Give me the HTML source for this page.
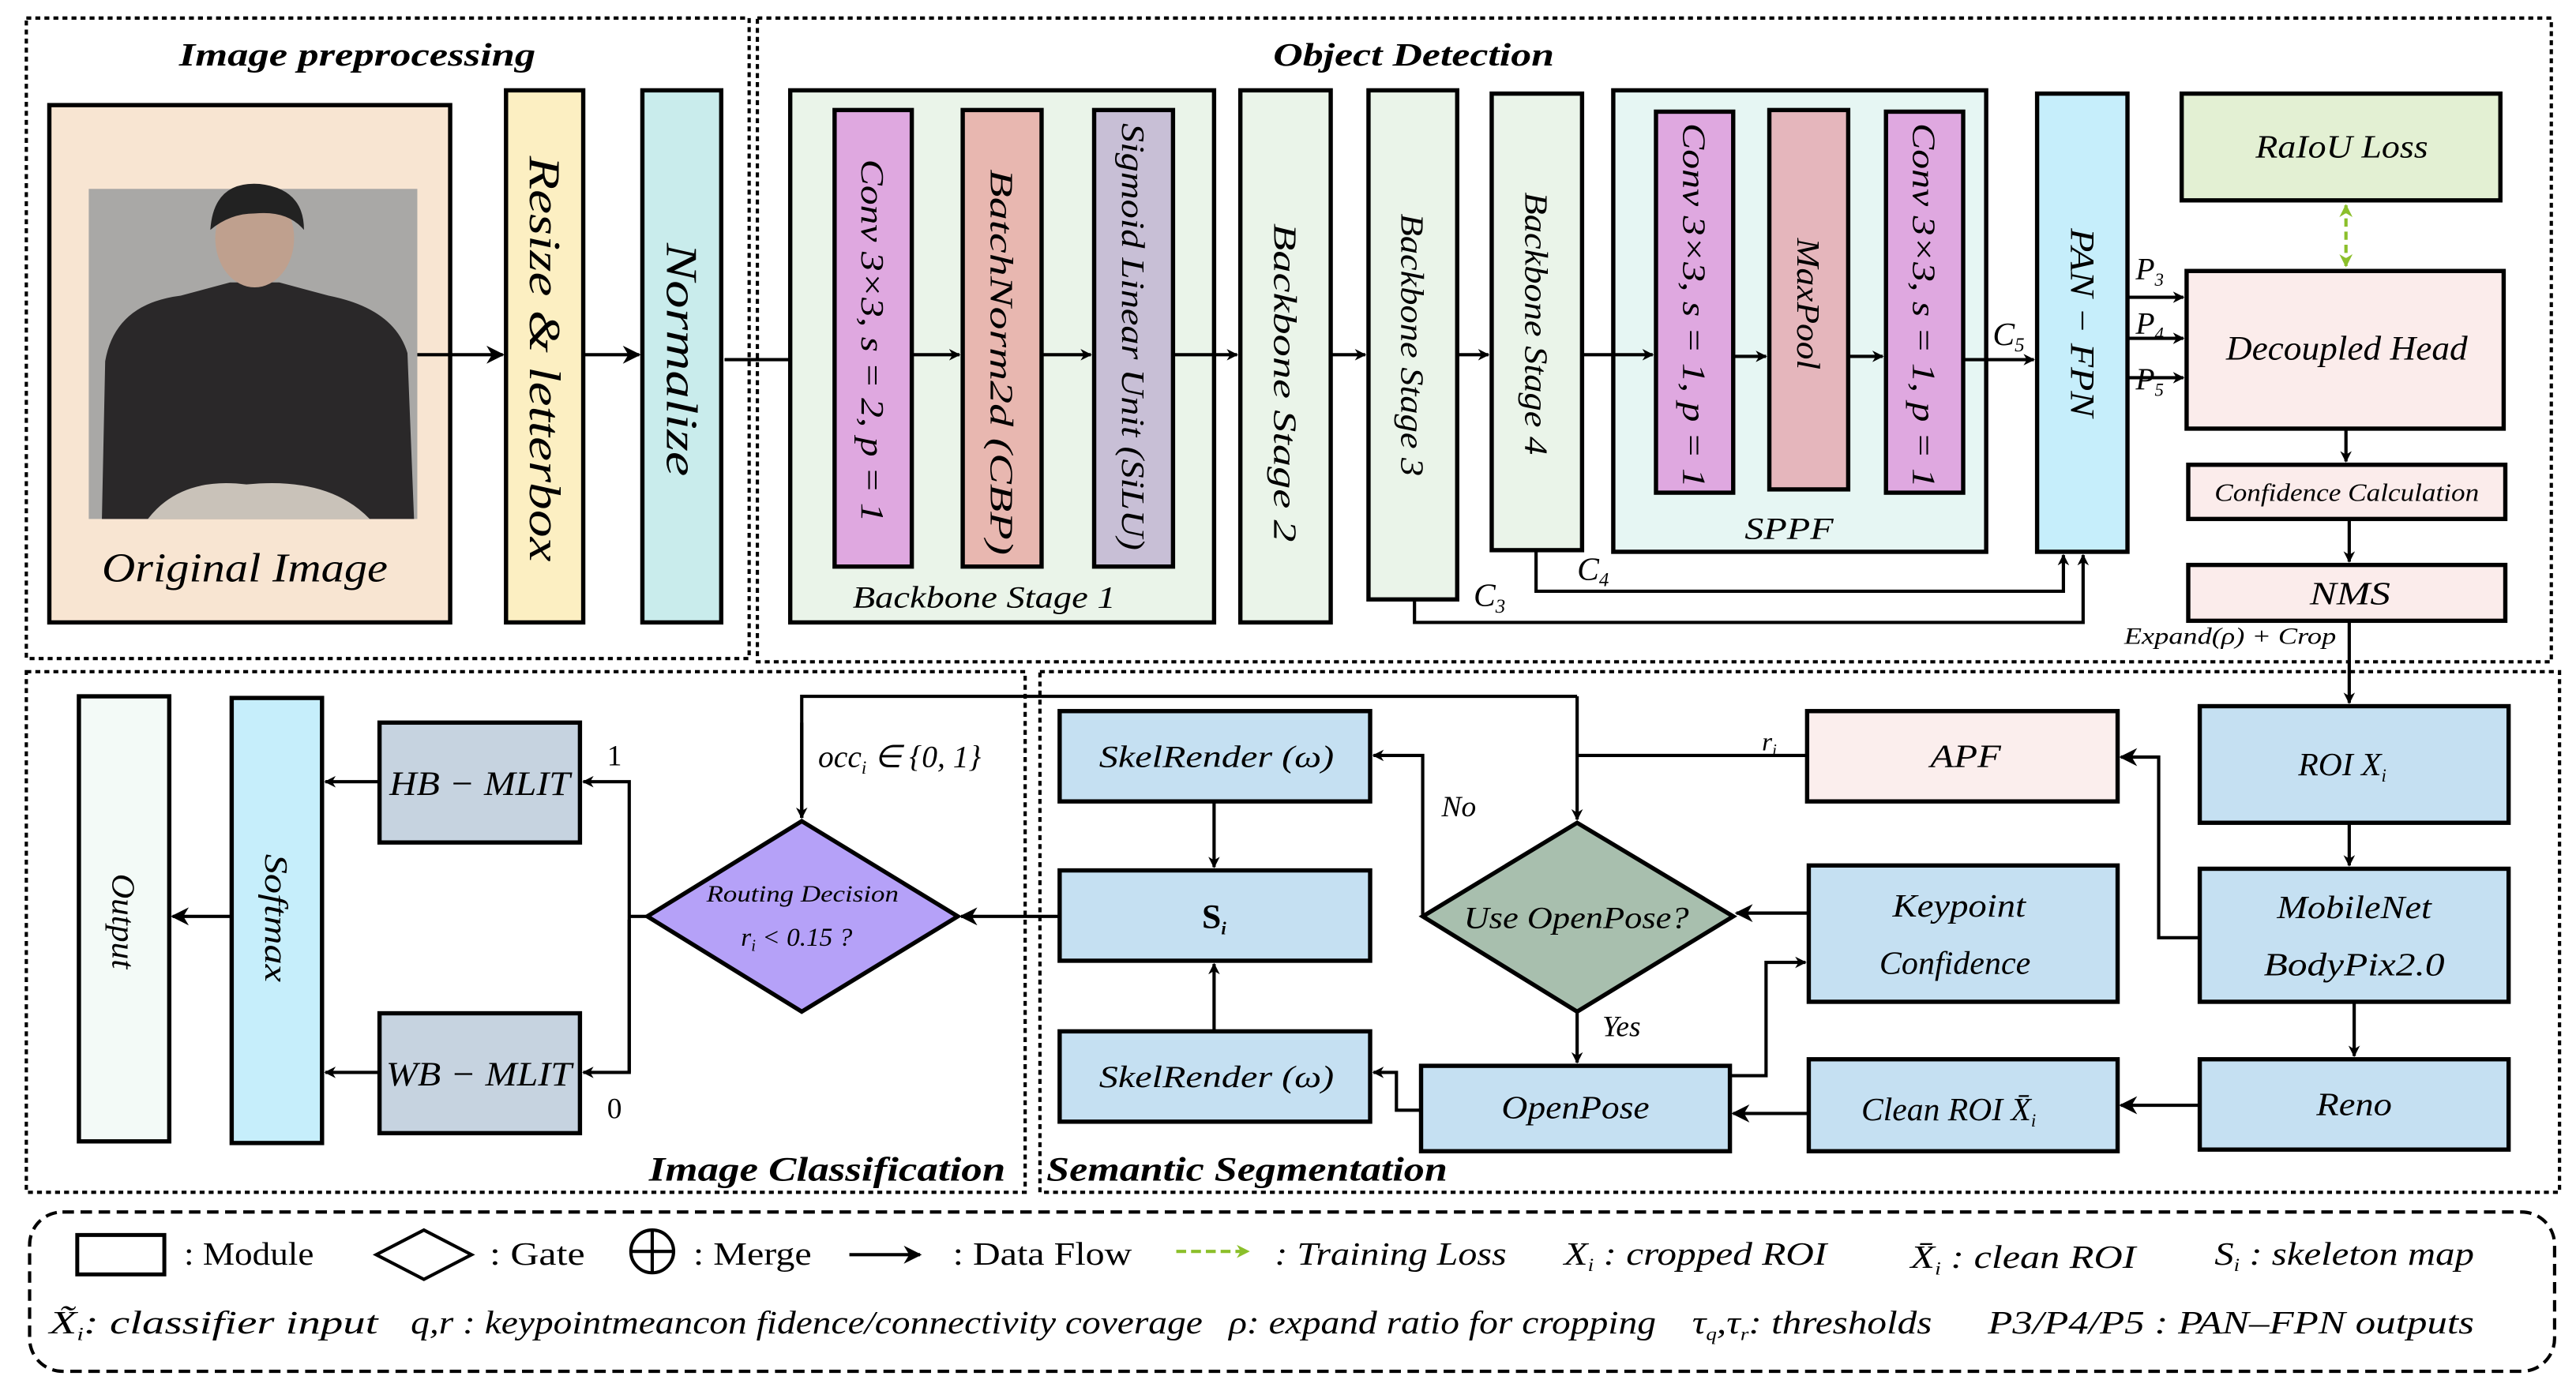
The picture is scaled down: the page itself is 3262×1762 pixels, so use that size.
<!DOCTYPE html>
<html><head><meta charset="utf-8"><style>
html,body{margin:0;padding:0;background:#fff;}
svg{display:block;}
text{font-family:"Liberation Serif",serif;font-style:italic;fill:#000;}
.n{font-style:normal;}
.b{font-weight:bold;}
.box{stroke:#000;stroke-width:2.6;}
.ln{stroke:#000;stroke-width:2;fill:none;}
</style></head><body>
<svg width="3262" height="1762" viewBox="0 0 1568 847" xmlns="http://www.w3.org/2000/svg">
<defs>
<marker id="a" viewBox="0 0 10 10" refX="9" refY="5" markerWidth="7" markerHeight="7" orient="auto" markerUnits="userSpaceOnUse">
<path d="M0,0 L10,5 L0,10 L3,5 z" fill="#000"/></marker>
<marker id="ab" viewBox="0 0 10 10" refX="9" refY="5" markerWidth="11" markerHeight="11" orient="auto" markerUnits="userSpaceOnUse">
<path d="M0,0 L10,5 L0,10 L3,5 z" fill="#000"/></marker>
<marker id="g" viewBox="0 0 10 10" refX="9" refY="5" markerWidth="8" markerHeight="8" orient="auto-start-reverse" markerUnits="userSpaceOnUse">
<path d="M0,0 L10,5 L0,10 L3,5 z" fill="#8bbf2a"/></marker>
</defs>

<!-- section frames -->
<g fill="none" stroke="#000" stroke-width="2" stroke-dasharray="3 2.5">
<rect x="16" y="11" width="440" height="390"/>
<rect x="461" y="11" width="1092" height="392"/>
<rect x="16" y="409" width="608" height="317"/>
<rect x="633" y="409" width="925" height="317"/>
</g>
<rect x="18" y="738" width="1537" height="97" rx="20" fill="none" stroke="#000" stroke-width="2" stroke-dasharray="7 4"/>

<text x="109" y="40" font-size="20" textLength="217" lengthAdjust="spacingAndGlyphs" class="b">Image preprocessing</text>
<text x="775" y="40" font-size="20" textLength="171" lengthAdjust="spacingAndGlyphs" class="b">Object Detection</text>
<text x="395" y="719" font-size="21" textLength="217" lengthAdjust="spacingAndGlyphs" class="b">Image Classification</text>
<text x="637" y="719" font-size="21" textLength="244" lengthAdjust="spacingAndGlyphs" class="b">Semantic Segmentation</text>

<!-- preprocessing -->
<rect class="box" x="30" y="64" width="244" height="315" fill="#f8e5d2"/>
<rect x="54" y="115" width="200" height="201" fill="#a9a8a6"/>
<path d="M62,316 L64,220 Q70,185 110,180 L140,172 L170,172 L200,180 Q240,188 248,215 L252,316 Z" fill="#2a2829"/>
<ellipse cx="155" cy="145" rx="24" ry="30" fill="#bfa08e"/>
<path d="M128,140 Q130,110 158,112 Q185,115 185,140 Q175,128 155,130 Q140,130 128,140Z" fill="#222"/>
<path d="M90,316 Q110,290 150,295 Q200,290 225,316Z" fill="#c9c2b9"/>
<text x="62" y="354" font-size="25" textLength="174" lengthAdjust="spacingAndGlyphs">Original Image</text>

<rect class="box" x="308" y="55" width="47" height="324" fill="#fcefc2"/>
<text transform="translate(331.5,218) rotate(90)" x="-123" font-size="27" textLength="247" lengthAdjust="spacingAndGlyphs" dy="9">Resize &amp; letterbox</text>
<rect class="box" x="391" y="55" width="48" height="324" fill="#c9ecec"/>
<text transform="translate(415,219) rotate(90)" x="-71" font-size="27" textLength="142" lengthAdjust="spacingAndGlyphs" dy="9">Normalize</text>

<line class="ln" x1="254" y1="216" x2="306" y2="216" marker-end="url(#ab)"/>
<line class="ln" x1="355" y1="216" x2="389" y2="216" marker-end="url(#ab)"/>
<line class="ln" x1="441" y1="219" x2="506" y2="219" marker-end="url(#ab)"/>

<!-- backbone 1 -->
<rect class="box" x="481" y="55" width="258" height="324" fill="#eaf4e9"/>
<rect class="box" x="508" y="67" width="47" height="278" fill="#dfa8e0"/>
<text transform="translate(531.5,207) rotate(90)" x="-110" font-size="20" textLength="221" lengthAdjust="spacingAndGlyphs" dy="7">Conv 3×3, s = 2, p = 1</text>
<rect class="box" x="586" y="67" width="48" height="278" fill="#e8b7b0"/>
<text transform="translate(610,220) rotate(90)" x="-117" font-size="20" textLength="235" lengthAdjust="spacingAndGlyphs" dy="7">BatchNorm2d  (CBP)</text>
<rect class="box" x="666" y="67" width="48" height="278" fill="#c8bfd6"/>
<text transform="translate(690,205) rotate(90)" x="-130" font-size="20" textLength="260" lengthAdjust="spacingAndGlyphs" dy="7">Sigmoid Linear Unit  (SiLU)</text>
<text x="519" y="370" font-size="19" textLength="160" lengthAdjust="spacingAndGlyphs">Backbone Stage 1</text>

<rect class="box" x="755" y="55" width="55" height="324" fill="#eaf4e9"/>
<text transform="translate(782.5,233) rotate(90)" x="-97" font-size="20" textLength="194" lengthAdjust="spacingAndGlyphs" dy="7">Backbone Stage 2</text>
<rect class="box" x="833" y="55" width="54" height="310" fill="#eaf4e9"/>
<text transform="translate(860,210) rotate(90)" x="-80" font-size="20" textLength="160" lengthAdjust="spacingAndGlyphs" dy="7">Backbone Stage 3</text>
<rect class="box" x="908" y="57" width="55" height="278" fill="#eaf4e9"/>
<text transform="translate(935.5,197) rotate(90)" x="-80" font-size="20" textLength="160" lengthAdjust="spacingAndGlyphs" dy="7">Backbone Stage 4</text>

<rect class="box" x="982" y="55" width="227" height="281" fill="#e6f6f3"/>
<rect class="box" x="1008" y="68" width="47" height="232" fill="#dfa8e0"/>
<text transform="translate(1031.5,186) rotate(90)" x="-111" font-size="20" textLength="222" lengthAdjust="spacingAndGlyphs" dy="7">Conv 3×3, s = 1, p = 1</text>
<rect class="box" x="1077" y="67" width="48" height="231" fill="#e5b6bc"/>
<text transform="translate(1101,185) rotate(90)" x="-40" font-size="20" textLength="80" lengthAdjust="spacingAndGlyphs" dy="7">MaxPool</text>
<rect class="box" x="1148" y="68" width="47" height="232" fill="#dfa8e0"/>
<text transform="translate(1171.5,186) rotate(90)" x="-111" font-size="20" textLength="222" lengthAdjust="spacingAndGlyphs" dy="7">Conv 3×3, s = 1, p = 1</text>
<text x="1062" y="328" font-size="19" textLength="54" lengthAdjust="spacingAndGlyphs">SPPF</text>

<rect class="box" x="1240" y="57" width="55" height="279" fill="#c6eefb"/>
<text transform="translate(1267.5,197) rotate(90)" x="-58" font-size="21" textLength="115" lengthAdjust="spacingAndGlyphs" dy="7">PAN − FPN</text>

<g>
<line class="ln" x1="555" y1="216" x2="584" y2="216" marker-end="url(#a)"/>
<line class="ln" x1="634" y1="216" x2="664" y2="216" marker-end="url(#a)"/>
<line class="ln" x1="714" y1="216" x2="753" y2="216" marker-end="url(#a)"/>
<line class="ln" x1="810" y1="216" x2="831" y2="216" marker-end="url(#a)"/>
<line class="ln" x1="887" y1="216" x2="906" y2="216" marker-end="url(#a)"/>
<line class="ln" x1="963" y1="216" x2="1006" y2="216" marker-end="url(#a)"/>
<line class="ln" x1="1055" y1="217" x2="1075" y2="217" marker-end="url(#a)"/>
<line class="ln" x1="1125" y1="217" x2="1146" y2="217" marker-end="url(#a)"/>
<line class="ln" x1="1195" y1="219" x2="1238" y2="219" marker-end="url(#a)"/>
<polyline class="ln" points="935,335 935,360 1256,360 1256,338" marker-end="url(#a)"/>
<polyline class="ln" points="861,365 861,379 1268,379 1268,338" marker-end="url(#a)"/>
</g>
<text x="1213" y="210" font-size="20">C<tspan font-size="12" dy="4">5</tspan></text>
<text x="960" y="353" font-size="20">C<tspan font-size="12" dy="4">4</tspan></text>
<text x="897" y="369" font-size="20">C<tspan font-size="12" dy="4">3</tspan></text>

<rect class="box" x="1328" y="57" width="194" height="65" fill="#e3f0d3"/>
<text x="1373" y="96" font-size="20" textLength="105" lengthAdjust="spacingAndGlyphs">RaIoU Loss</text>
<line x1="1428" y1="125" x2="1428" y2="162" stroke="#8bbf2a" stroke-width="2" stroke-dasharray="5 3" marker-start="url(#g)" marker-end="url(#g)"/>
<rect class="box" x="1331" y="165" width="193" height="96" fill="#fbeceb"/>
<text x="1355" y="219" font-size="21" textLength="147" lengthAdjust="spacingAndGlyphs">Decoupled Head</text>
<rect class="box" x="1332" y="283" width="193" height="33" fill="#fbeceb"/>
<text x="1348" y="305" font-size="15" textLength="161" lengthAdjust="spacingAndGlyphs">Confidence Calculation</text>
<rect class="box" x="1332" y="344" width="193" height="34" fill="#fbeceb"/>
<text x="1406" y="368" font-size="20" textLength="49" lengthAdjust="spacingAndGlyphs">NMS</text>
<line class="ln" x1="1295" y1="181" x2="1329" y2="181" marker-end="url(#a)"/>
<line class="ln" x1="1295" y1="206" x2="1329" y2="206" marker-end="url(#a)"/>
<line class="ln" x1="1295" y1="230" x2="1329" y2="230" marker-end="url(#a)"/>
<text x="1300" y="170" font-size="19">P<tspan font-size="11" dy="4">3</tspan></text>
<text x="1300" y="203" font-size="19">P<tspan font-size="11" dy="4">4</tspan></text>
<text x="1300" y="237" font-size="19">P<tspan font-size="11" dy="4">5</tspan></text>
<line class="ln" x1="1428" y1="261" x2="1428" y2="281" marker-end="url(#a)"/>
<line class="ln" x1="1430" y1="316" x2="1430" y2="342" marker-end="url(#a)"/>
<line class="ln" x1="1430" y1="378" x2="1430" y2="428" marker-end="url(#a)"/>
<text x="1293" y="392" font-size="14" textLength="129" lengthAdjust="spacingAndGlyphs">Expand(ρ) + Crop</text>

<!-- classification -->
<rect class="box" x="48" y="424" width="55" height="271" fill="#f3faf7"/>
<text transform="translate(75.5,561) rotate(90)" x="-29" font-size="20" textLength="58" lengthAdjust="spacingAndGlyphs" dy="7">Output</text>
<rect class="box" x="141" y="425" width="55" height="271" fill="#c6eefb"/>
<text transform="translate(168.5,559) rotate(90)" x="-39" font-size="20" textLength="78" lengthAdjust="spacingAndGlyphs" dy="7">Softmax</text>
<rect class="box" x="231" y="440" width="122" height="73" fill="#c6d3e0"/>
<text x="237" y="484" font-size="21" textLength="110" lengthAdjust="spacingAndGlyphs">HB − MLIT</text>
<rect class="box" x="231" y="617" width="122" height="73" fill="#c6d3e0"/>
<text x="235" y="661" font-size="21" textLength="113" lengthAdjust="spacingAndGlyphs">WB − MLIT</text>
<polygon class="box" points="394,558 488,500 583,558 488,616" fill="#b5a1f8"/>
<text x="430" y="549" font-size="14" textLength="117" lengthAdjust="spacingAndGlyphs">Routing Decision</text>
<text x="451" y="576" font-size="16">r<tspan font-size="10" dy="3">i</tspan><tspan dy="-3"> &lt; 0.15 ?</tspan></text>
<polyline class="ln" points="394,558 383,558"/>
<polyline class="ln" points="383,653 383,476 355,476" marker-end="url(#a)"/>
<polyline class="ln" points="383,560 383,653 355,653" marker-end="url(#a)"/>
<text x="374" y="466" font-size="18" class="n" text-anchor="middle">1</text>
<text x="374" y="681" font-size="18" class="n" text-anchor="middle">0</text>
<line class="ln" x1="231" y1="476" x2="198" y2="476" marker-end="url(#a)"/>
<line class="ln" x1="231" y1="653" x2="198" y2="653" marker-end="url(#a)"/>
<line class="ln" x1="141" y1="558" x2="105" y2="558" marker-end="url(#ab)"/>
<polyline class="ln" points="488,498 488,424 960,424"/>
<line class="ln" x1="488" y1="440" x2="488" y2="498" marker-end="url(#a)"/>
<polyline class="ln" points="960,424 960,499" marker-end="url(#a)"/>
<text x="498" y="467" font-size="19">occ<tspan font-size="11" dy="4">i</tspan><tspan dy="-4"> ∈ {0, 1}</tspan></text>
<line class="ln" x1="645" y1="558" x2="585" y2="558" marker-end="url(#ab)"/>

<!-- segmentation -->
<g fill="#c5e0f2">
<rect class="box" x="645" y="433" width="189" height="55"/>
<rect class="box" x="645" y="530" width="189" height="55"/>
<rect class="box" x="645" y="628" width="189" height="55"/>
<rect class="box" x="1101" y="527" width="188" height="83"/>
<rect class="box" x="1101" y="645" width="188" height="56"/>
<rect class="box" x="865" y="649" width="188" height="52"/>
<rect class="box" x="1339" y="430" width="188" height="71"/>
<rect class="box" x="1339" y="529" width="188" height="81"/>
<rect class="box" x="1339" y="645" width="188" height="55"/>
</g>
<rect class="box" x="1100" y="433" width="189" height="55" fill="#fbeeed"/>
<polygon class="box" points="866,558 960,501 1055,558 960,616" fill="#a8bfae"/>
<text x="669" y="467" font-size="19" textLength="143" lengthAdjust="spacingAndGlyphs">SkelRender (ω)</text>
<text x="739" y="565" font-size="21" class="n b" text-anchor="middle">S<tspan font-size="11" dy="4" font-style="italic">i</tspan></text>
<text x="669" y="662" font-size="19" textLength="143" lengthAdjust="spacingAndGlyphs">SkelRender (ω)</text>
<text x="1175" y="467" font-size="20" textLength="43" lengthAdjust="spacingAndGlyphs">APF</text>
<text x="891" y="565" font-size="19" textLength="137" lengthAdjust="spacingAndGlyphs">Use OpenPose?</text>
<text x="1152" y="558" font-size="20" textLength="81" lengthAdjust="spacingAndGlyphs">Keypoint</text>
<text x="1144" y="593" font-size="20" textLength="92" lengthAdjust="spacingAndGlyphs">Confidence</text>
<text x="1133" y="682" font-size="20">Clean ROI X̄<tspan font-size="11" dy="4">i</tspan></text>
<text x="914" y="681" font-size="20" textLength="90" lengthAdjust="spacingAndGlyphs">OpenPose</text>
<text x="1399" y="472" font-size="20">ROI X<tspan font-size="11" dy="4">i</tspan></text>
<text x="1386" y="559" font-size="20" textLength="94" lengthAdjust="spacingAndGlyphs">MobileNet</text>
<text x="1378" y="594" font-size="20" textLength="110" lengthAdjust="spacingAndGlyphs">BodyPix2.0</text>
<text x="1410" y="679" font-size="20" textLength="46" lengthAdjust="spacingAndGlyphs">Reno</text>

<line class="ln" x1="739" y1="488" x2="739" y2="528" marker-end="url(#a)"/>
<line class="ln" x1="739" y1="628" x2="739" y2="587" marker-end="url(#a)"/>
<line class="ln" x1="1100" y1="460" x2="960" y2="460"/>
<polyline class="ln" points="866,558 866,460 836,460" marker-end="url(#a)"/>
<text x="888" y="497" font-size="18" text-anchor="middle">No</text>
<text x="1077" y="457" font-size="16" text-anchor="middle">r<tspan font-size="10" dy="3">i</tspan></text>
<line class="ln" x1="1430" y1="501" x2="1430" y2="527" marker-end="url(#a)"/>
<line class="ln" x1="1433" y1="610" x2="1433" y2="643" marker-end="url(#a)"/>
<line class="ln" x1="1339" y1="673" x2="1291" y2="673" marker-end="url(#ab)"/>
<line class="ln" x1="1101" y1="678" x2="1055" y2="678" marker-end="url(#ab)"/>
<polyline class="ln" points="1339,571 1314,571 1314,461 1291,461" marker-end="url(#ab)"/>
<line class="ln" x1="1101" y1="556" x2="1057" y2="556" marker-end="url(#ab)"/>
<polyline class="ln" points="1053,655 1075,655 1075,586 1099,586" marker-end="url(#a)"/>
<line class="ln" x1="960" y1="616" x2="960" y2="647" marker-end="url(#a)"/>
<text x="987" y="631" font-size="18" text-anchor="middle">Yes</text>
<polyline class="ln" points="865,676 850,676 850,653 836,653" marker-end="url(#a)"/>

<!-- legend -->
<rect x="47" y="752" width="53" height="24" fill="#fff" stroke="#000" stroke-width="2.4"/>
<text x="112" y="770" font-size="20" class="n" textLength="79" lengthAdjust="spacingAndGlyphs">: Module</text>
<polygon points="229,764 258,749 287,764 258,779" fill="#fff" stroke="#000" stroke-width="2"/>
<text x="298" y="770" font-size="20" class="n" textLength="58" lengthAdjust="spacingAndGlyphs">: Gate</text>
<circle cx="397" cy="762" r="13" fill="#fff" stroke="#000" stroke-width="2"/>
<line x1="384" y1="762" x2="410" y2="762" stroke="#000" stroke-width="2"/>
<line x1="397" y1="749" x2="397" y2="775" stroke="#000" stroke-width="2"/>
<text x="422" y="770" font-size="20" class="n" textLength="72" lengthAdjust="spacingAndGlyphs">: Merge</text>
<line class="ln" x1="517" y1="764" x2="560" y2="764" marker-end="url(#ab)"/>
<text x="580" y="770" font-size="20" class="n" textLength="109" lengthAdjust="spacingAndGlyphs">: Data Flow</text>
<line x1="716" y1="762" x2="760" y2="762" stroke="#8bbf2a" stroke-width="2" stroke-dasharray="6 3" marker-end="url(#g)"/>
<text x="776" y="770" font-size="20" textLength="141" lengthAdjust="spacingAndGlyphs">: Training Loss</text>
<text x="952" y="770" font-size="20" textLength="160" lengthAdjust="spacingAndGlyphs">X<tspan font-size="11" dy="4">i</tspan><tspan dy="-4"> : cropped ROI</tspan></text>
<text x="1163" y="772" font-size="20" textLength="137" lengthAdjust="spacingAndGlyphs">X̄<tspan font-size="11" dy="4">i</tspan><tspan dy="-4"> : clean ROI</tspan></text>
<text x="1348" y="770" font-size="20" textLength="158" lengthAdjust="spacingAndGlyphs">S<tspan font-size="11" dy="4">i</tspan><tspan dy="-4"> : skeleton map</tspan></text>
<text x="30" y="812" font-size="20" textLength="200" lengthAdjust="spacingAndGlyphs">X̃<tspan font-size="11" dy="4">i</tspan><tspan dy="-4">: classifier input</tspan></text>
<text x="250" y="812" font-size="20" textLength="482" lengthAdjust="spacingAndGlyphs">q,r : keypointmeancon fidence/connectivity coverage</text>
<text x="748" y="812" font-size="20" textLength="260" lengthAdjust="spacingAndGlyphs">ρ: expand ratio for cropping</text>
<text x="1030" y="812" font-size="20" textLength="146" lengthAdjust="spacingAndGlyphs">τ<tspan font-size="11" dy="4">q</tspan><tspan dy="-4">,τ</tspan><tspan font-size="11" dy="4">r</tspan><tspan dy="-4">: thresholds</tspan></text>
<text x="1210" y="812" font-size="20" textLength="296" lengthAdjust="spacingAndGlyphs">P3/P4/P5 : PAN–FPN outputs</text>
</svg>
</body></html>
